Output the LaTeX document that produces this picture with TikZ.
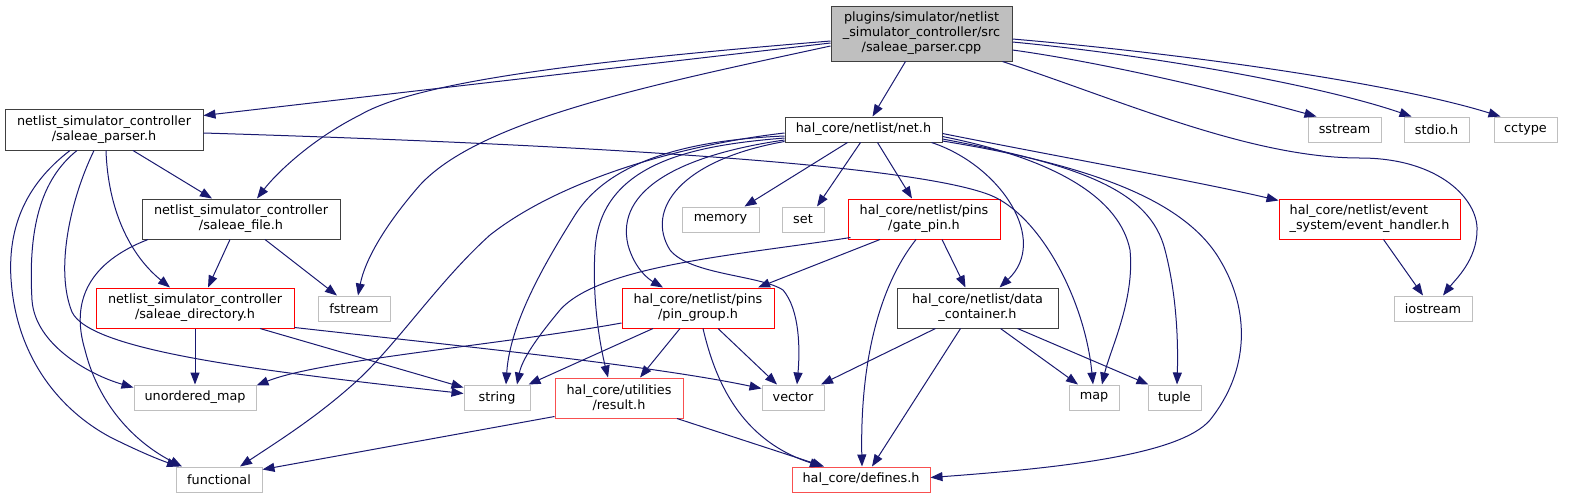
\documentclass[tikz,border=0pt]{standalone}
\usepackage{fontspec}
\setmainfont{DejaVu Sans}
\usetikzlibrary{arrows.meta}
\definecolor{edgec}{HTML}{191970}
\definecolor{blkb}{HTML}{404040}
\definecolor{grayb}{HTML}{BFBFBF}
\definecolor{cppfill}{HTML}{BFBFBF}
\definecolor{redb}{HTML}{FF0000}
\definecolor{lredb}{HTML}{F85050}
\tikzset{
  box/.style={draw, line width=1pt, inner sep=0pt, align=center, text=black,
    font=\fontsize{12.8pt}{15pt}\selectfont},
  blk/.style={box, draw=blkb},
  gry/.style={box, draw=grayb},
  rd/.style={box, draw=redb},
  lrd/.style={box, draw=lredb},
  e/.style={draw=edgec, line width=1pt, -{Triangle[length=12pt,width=9pt]}},
}
\begin{document}
\begin{tikzpicture}[x=1pt,y=-1pt]
\useasboundingbox (0,0) rectangle (1576,499);
% nodes
\node[blk, fill=cppfill, minimum width=181pt, minimum height=55pt] (cpp) at (921.5,33.5) {plugins/simulator/netlist\\\_simulator\_controller/src\\/saleae\_parser.cpp};
\node[blk, minimum width=198pt, minimum height=41pt] (sp) at (104,129.5) {netlist\_simulator\_controller\\/saleae\_parser.h};
\node[blk, minimum width=198pt, minimum height=40pt] (sf) at (241,219) {netlist\_simulator\_controller\\/saleae\_file.h};
\node[rd, minimum width=198pt, minimum height=40pt] (sd) at (195,308) {netlist\_simulator\_controller\\/saleae\_directory.h};
\node[gry, minimum width=72pt, minimum height=25pt] (fstream) at (354,308.5) {fstream};
\node[blk, minimum width=157pt, minimum height=25pt] (net) at (863.5,129.5) {hal\_core/netlist/net.h};
\node[gry, minimum width=77pt, minimum height=25pt] (memory) at (720.5,219.5) {memory};
\node[gry, minimum width=42pt, minimum height=25pt] (set) at (803,219.5) {set};
\node[rd, minimum width=152pt, minimum height=40pt] (gate) at (924,219) {hal\_core/netlist/pins\\/gate\_pin.h};
\node[gry, minimum width=73pt, minimum height=25pt] (sstream) at (1344.5,129.5) {sstream};
\node[gry, minimum width=65pt, minimum height=25pt] (stdio) at (1436.5,129.5) {stdio.h};
\node[gry, minimum width=63pt, minimum height=25pt] (cctype) at (1525.5,129.5) {cctype};
\node[rd, align=left, minimum width=181pt, minimum height=40pt] (event) at (1369.5,219) {hal\_core/netlist/event\\\_system/event\_handler.h};
\node[gry, minimum width=78pt, minimum height=25pt] (iostream) at (1433,308.5) {iostream};
\node[rd, minimum width=152pt, minimum height=40pt] (pin) at (698,308) {hal\_core/netlist/pins\\/pin\_group.h};
\node[blk, minimum width=161pt, minimum height=40pt] (data) at (977.5,308) {hal\_core/netlist/data\\\_container.h};
\node[gry, minimum width=122pt, minimum height=25pt] (umap) at (195,397.5) {unordered\_map};
\node[gry, minimum width=66pt, minimum height=25pt] (string) at (497,397.5) {string};
\node[gry, minimum width=62pt, minimum height=25pt] (vector) at (793,397.5) {vector};
\node[lrd, minimum width=128pt, minimum height=40pt] (result) at (619,398) {hal\_core/utilities\\/result.h};
\node[gry, minimum width=50pt, minimum height=25pt] (map) at (1094,397.5) {map};
\node[gry, minimum width=53pt, minimum height=25pt] (tuple) at (1174.5,397.5) {tuple};
\node[gry, minimum width=86pt, minimum height=25pt] (functional) at (219,479.5) {functional};
\node[lrd, minimum width=138pt, minimum height=25pt] (defines) at (861,479.5) {hal\_core/defines.h};
% cpp edges
\draw[e] ([yshift=-9.5pt]cpp.west) -- ([yshift=-7pt]sp.north east);
\draw[e] ([yshift=-7.5pt]cpp.west) .. controls (600,60) and (420,80) .. (360,115) .. controls (310,140) and (275,175) .. ([xshift=16pt]sf.north);
\draw[e] ([yshift=-12.5pt]cpp.west) .. controls (650,85) and (480,120) .. (420,185) .. controls (385,225) and (365,260) .. ([xshift=4pt]fstream.north);
\draw[e] ([xshift=-16pt]cpp.south) -- ([xshift=9pt]net.north);
\draw[e] ([yshift=-5.5pt]cpp.east) .. controls (1200,55) and (1400,85) .. ([xshift=-25pt]cctype.north);
\draw[e] ([yshift=-8.5pt]cpp.east) .. controls (1150,55) and (1320,85) .. ([xshift=-25pt]stdio.north);
\draw[e] ([yshift=-16.5pt]cpp.east) .. controls (1100,62) and (1220,90) .. ([xshift=-28pt]sstream.north);
\draw[e] ([xshift=-10pt]cpp.south east) .. controls (1120,100) and (1250,158) .. (1360,158) .. controls (1440,158) and (1478,200) .. (1477,230) .. controls (1477,260) and (1455,280) .. ([xshift=10pt]iostream.north);
% saleae_parser.h edges
\draw[e] ([xshift=29pt]sp.south) -- ([xshift=-29pt]sf.north);
\draw[e] ([xshift=2pt]sp.south) .. controls (108,210) and (130,255) .. ([xshift=-25pt]sd.north);
\draw[e] ([xshift=-10pt]sp.south) .. controls (70,200) and (55,270) .. (72,312) .. controls (90,350) and (250,370) .. ([yshift=-9pt]string.north west);
\draw[e] ([xshift=-27pt]sp.south) .. controls (40,180) and (28,230) .. (32,300) .. controls (35,345) and (90,375) .. ([yshift=-3pt]umap.north west);
\draw[e] ([xshift=-34pt]sp.south) .. controls (25,185) and (5,230) .. (12,290) .. controls (20,360) and (60,410) .. (110,437) .. controls (140,452) and (160,460) .. ([xshift=-40pt]functional.north);
\draw[e] ([yshift=-3.5pt]sp.east) .. controls (500,142) and (900,160) .. (990,195) .. controls (1040,215) and (1085,300) .. ([xshift=-1pt]map.north);
% saleae_file.h edges
\draw[e] ([xshift=-11pt]sf.south) -- ([xshift=13pt]sd.north);
\draw[e] ([xshift=24pt]sf.south) -- ([xshift=-17pt]fstream.north);
\draw[e] ([xshift=-93pt]sf.south) .. controls (90,262) and (70,300) .. (85,350) .. controls (100,410) and (140,445) .. ([xshift=-37pt]functional.north);
% saleae_directory.h edges
\draw[e] (sd) -- (umap);
\draw[e] ([xshift=65pt]sd.south) -- ([yshift=-3pt]string.north west);
\draw[e] ([yshift=1pt]sd.south east) .. controls (450,345) and (650,365) .. ([yshift=-4pt]vector.north west);
% pin_group.h edges
\draw[e] ([yshift=-15pt]pin.west) .. controls (500,345) and (320,360) .. ([yshift=-1pt]umap.north east);
\draw[e] ([xshift=-45pt]pin.south) -- ([xshift=-2pt]string.north east);
\draw[e] ([xshift=-18pt]pin.south) -- ([xshift=21pt]result.north);
\draw[e] ([xshift=20pt]pin.south) -- ([xshift=-16pt]vector.north);
\draw[e] ([xshift=5pt]pin.south) .. controls (715,380) and (740,440) .. ([xshift=-39pt]defines.north);
% result.h edges
\draw[e] ([yshift=2pt]result.south west) -- ([yshift=-3pt]functional.north east);
\draw[e] ([xshift=58pt]result.south) -- ([xshift=-37pt]defines.north);
% data_container.h edges
\draw[e] ([xshift=-42pt]data.south) -- ([xshift=28pt]vector.north);
\draw[e] ([xshift=-17pt]data.south) -- ([xshift=11pt]defines.north);
\draw[e] ([xshift=23pt]data.south) -- ([xshift=-16pt]map.north);
\draw[e] ([xshift=40pt]data.south) -- ([xshift=-26pt]tuple.north);
% gate_pin.h edges
\draw[e] ([xshift=-44pt]gate.south) -- ([xshift=60pt]pin.north);
\draw[e] ([xshift=18pt]gate.south) -- ([xshift=-12pt]data.north);
\draw[e] ([xshift=-8pt]gate.south) .. controls (880,285) and (860,360) .. ([xshift=1pt]defines.north);
\draw[e] ([xshift=3pt,yshift=2pt]gate.south west) .. controls (740,255) and (600,265) .. (560,310) .. controls (535,340) and (522,360) .. ([xshift=20pt]string.north);
% net.h edges
\draw[e] ([xshift=-16pt]net.south) -- ([xshift=24pt]memory.north);
\draw[e] ([xshift=-3pt]net.south) -- ([xshift=14pt]set.north);
\draw[e] ([xshift=14pt]net.south) -- ([xshift=-12pt]gate.north);
\draw[e] ([xshift=68pt]net.south) .. controls (1000,165) and (1050,240) .. ([xshift=22pt]data.north);
\draw[e] ([yshift=-4pt]net.east) .. controls (1050,155) and (1200,182) .. ([yshift=-2pt]event.north west);
\draw[e] ([yshift=-7pt]net.east) .. controls (1060,160) and (1120,200) .. (1130,250) .. controls (1135,300) and (1110,350) .. ([xshift=8pt]map.north);
\draw[e] ([yshift=-9.5pt]net.east) .. controls (1080,165) and (1150,190) .. (1165,250) .. controls (1178,300) and (1178,350) .. ([xshift=2.5pt]tuple.north);
\draw[e] ([yshift=-11.5pt]net.east) .. controls (1090,165) and (1185,200) .. (1220,260) .. controls (1250,310) and (1250,370) .. (1210,420) .. controls (1180,455) and (1060,468) .. ([yshift=2pt]defines.east);
\draw[e] ([yshift=-3.5pt]net.west) .. controls (680,145) and (560,180) .. (490,235) .. controls (440,280) and (400,340) .. (360,378) .. controls (320,415) and (280,440) .. ([xshift=21pt]functional.north);
\draw[e] ([yshift=-6.5pt]net.west) .. controls (690,140) and (610,160) .. (575,215) .. controls (550,255) and (510,320) .. ([xshift=9pt]string.north);
\draw[e] ([yshift=-8.5pt]net.west) .. controls (700,145) and (600,160) .. (595,250) .. controls (592,300) and (600,345) .. ([xshift=-11pt]result.north);
\draw[e] ([yshift=-10.5pt]net.west) .. controls (680,155) and (615,190) .. (628,245) .. controls (635,270) and (650,280) .. ([xshift=-35pt]pin.north);
\draw[e] ([yshift=-12pt]net.west) .. controls (680,160) and (645,210) .. (670,250) .. controls (690,275) and (760,275) .. (783,290) .. controls (800,310) and (800,350) .. ([xshift=4pt]vector.north);
% event_handler.h edge
\draw[e] ([xshift=14pt]event.south) -- ([xshift=-10pt]iostream.north);
\end{tikzpicture}
\end{document}
